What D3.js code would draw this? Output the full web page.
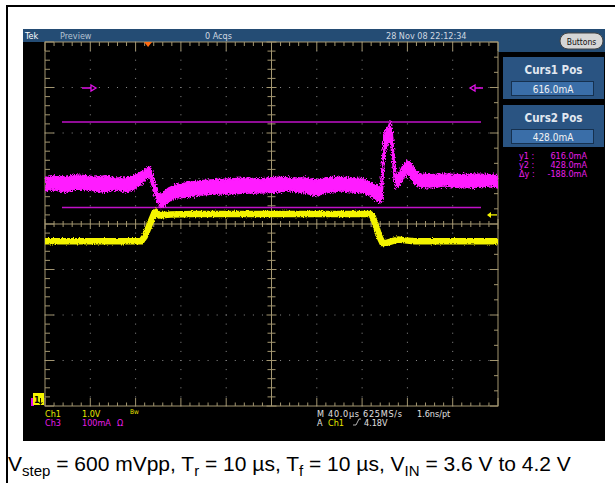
<!DOCTYPE html>
<html><head><meta charset="utf-8">
<script src="https://cdn.jsdelivr.net/npm/d3@7"></script>
<style>body{margin:0;background:#fff}svg{display:block}</style>
</head><body>
<svg id="c" width="615" height="483"></svg>
<script>
// ---------------- data ----------------
const timePerDiv = 40;            // µs/div
const leftEdgeTime = -91;         // µs at left edge (trigger at 0)
const ch1VoltsPerDiv = 1.0;       // V/div
const ch1CenterVolts = 3.98;      // V at screen centre
const ch3MilliampsPerDiv = 100;   // mA/div
const ch3CenterMilliamps = 392;   // mA at screen centre
const triggerLevel = 4.18;        // V
const cursorValues = [616.0, 428.0]; // mA

// Ch1 (yellow) – input voltage
const ch1Time  = [-91, -6, -3, 0, 3, 5.5, 7, 10, 20, 40, 196, 198, 201, 204, 207, 210, 215, 221, 227, 235, 309];
const ch1Volts = [3.6, 3.6, 3.7, 3.88, 4.07, 4.22, 4.24, 4.17, 4.19, 4.2, 4.2, 4.16, 3.96, 3.72, 3.56, 3.56, 3.6, 3.64, 3.62, 3.6, 3.6];

// Ch3 (magenta) – current, upper and lower envelope of the noisy band
const ch3Time  = [-91, -82, -73, -64.5, -55.5, -47, -38, -29, -20, -13, -9, -4.5, -1, 2, 3.5, 6, 9, 11.5, 14, 18, 24, 33, 46, 59, 72, 86, 99, 112, 125, 139, 147.5, 156, 169.5, 183, 191.5, 198, 202, 205, 206.6, 208.4, 210.2, 212, 213.7, 215.5, 217.2, 219, 221.6, 225, 228.7, 232, 235.8, 240, 249, 262, 275.5, 289, 302, 309];
const ch3Upper = [493, 498, 495, 500, 498, 495, 498, 493, 493, 498, 502, 509, 515, 517, 506, 482, 462, 456, 462, 471, 478, 482, 487, 489, 491, 493, 491, 495, 493, 493, 489, 493, 495, 493, 491, 482, 476, 471, 511, 592, 601, 605, 616, 599, 537, 498, 504, 520, 531, 526, 511, 502, 500, 502, 500, 502, 500, 498];
const ch3Lower = [465, 467, 462, 469, 467, 465, 462, 467, 462, 467, 473, 484, 493, 493, 476, 454, 436, 428, 432, 440, 449, 451, 456, 458, 458, 460, 460, 462, 465, 460, 454, 460, 465, 462, 460, 451, 445, 438, 445, 533, 559, 566, 581, 544, 493, 471, 476, 489, 502, 493, 480, 473, 471, 476, 471, 473, 476, 471];

// readouts
const topBarTexts = ["Tek", "Preview", "0 Acqs", "28 Nov 08 22:12:34"];
const cursorPanelTitles = ["Curs1 Pos", "Curs2 Pos"];
const readoutLabels = ["y1 :", "y2 :", "\u0394y :"];
const readoutValues = ["616.0mA", "428.0mA", "-188.0mA"];

// ---------------- drawing ----------------
const svg = d3.select("#c");
const G = {x0: 45, x1: 498, y0: 42, y1: 406};
const nX = 10, nY = 8;
const xDiv = d3.scaleLinear().domain([0, nX]).range([G.x0, G.x1]);
const yDiv = d3.scaleLinear().domain([-nY/2, nY/2]).range([G.y1, G.y0]);
const xT = d3.scaleLinear().domain([leftEdgeTime, leftEdgeTime + nX*timePerDiv]).range([G.x0, G.x1]);
const y1 = d3.scaleLinear().domain([ch1CenterVolts - 4*ch1VoltsPerDiv, ch1CenterVolts + 4*ch1VoltsPerDiv]).range([G.y1, G.y0]);
const y3 = d3.scaleLinear().domain([ch3CenterMilliamps - 4*ch3MilliampsPerDiv, ch3CenterMilliamps + 4*ch3MilliampsPerDiv]).range([G.y1, G.y0]);

const scopeFont = "'Liberation Sans Narrow','DejaVu Sans Condensed',sans-serif";
const TAN = "#a39670", BLUE = "#244c74", MAG = "#ff1aff", YEL = "#f4f400";

const defs = svg.append("defs");
const f = defs.append("filter").attr("id","fuzz").attr("x","-5%").attr("y","-30%").attr("width","110%").attr("height","160%");
f.append("feTurbulence").attr("type","fractalNoise").attr("baseFrequency","0.9 0.6").attr("numOctaves",2).attr("seed",4).attr("result","n");
f.append("feDisplacementMap").attr("in","SourceGraphic").attr("in2","n").attr("scale",6).attr("xChannelSelector","R").attr("yChannelSelector","G");
const f2 = defs.append("filter").attr("id","fuzz2").attr("x","-5%").attr("y","-30%").attr("width","110%").attr("height","160%");
f2.append("feTurbulence").attr("type","fractalNoise").attr("baseFrequency","0.9 0.6").attr("numOctaves",2).attr("seed",9).attr("result","n");
f2.append("feDisplacementMap").attr("in","SourceGraphic").attr("in2","n").attr("scale",3).attr("xChannelSelector","R").attr("yChannelSelector","G");

// figure frame
svg.append("line").attr("x1",6).attr("x2",615).attr("y1",6).attr("y2",6).attr("stroke","#000").attr("stroke-width",2);
svg.append("line").attr("x1",7).attr("x2",7).attr("y1",6).attr("y2",483).attr("stroke","#000").attr("stroke-width",2);

// scope screen
svg.append("rect").attr("x",23).attr("y",29).attr("width",582).attr("height",412).attr("fill","#000");
svg.append("rect").attr("x",23).attr("y",29).attr("width",582).attr("height",13).attr("fill",BLUE);
svg.append("rect").attr("x",498).attr("y",29).attr("width",107).attr("height",23).attr("fill",BLUE);

// top bar text
const tb = svg.append("g").attr("font-family",scopeFont).attr("font-size",9);
tb.append("text").attr("x",25).attr("y",38.5).attr("fill","#fff").text(topBarTexts[0]);
tb.append("text").attr("x",60).attr("y",38.5).attr("fill","#b4c2d2").text(topBarTexts[1]);
tb.append("text").attr("x",205).attr("y",38.5).attr("fill","#d0d8e0").text(topBarTexts[2]);
tb.append("text").attr("x",386).attr("y",38.5).attr("fill","#d0d8e0").text(topBarTexts[3]);
svg.append("rect").attr("x",560).attr("y",33).attr("width",43).attr("height",16).attr("rx",8).attr("fill","#d6d6d6").attr("stroke","#444").attr("stroke-width",1);
svg.append("text").attr("x",581.5).attr("y",44.5).attr("text-anchor","middle").attr("font-family",scopeFont).attr("font-size",8.5).attr("fill","#111").text("Buttons");

// cursor panels
cursorPanelTitles.forEach((t,i)=>{
  const py = 57 + i*48;
  svg.append("rect").attr("x",503).attr("y",py).attr("width",101).attr("height",42).attr("fill","#2a5482");
  svg.append("text").attr("x",553.5).attr("y",py+17).attr("text-anchor","middle").attr("font-family",scopeFont).attr("font-weight","bold").attr("font-size",11.5).attr("fill","#e2e8f0").text(t);
  svg.append("rect").attr("x",511.5).attr("y",py+24.5).attr("width",82).attr("height",14).attr("fill","#3a6ea8").attr("stroke","#16314f").attr("stroke-width",1);
  svg.append("text").attr("x",553).attr("y",py+35.5).attr("text-anchor","middle").attr("font-family",scopeFont).attr("font-size",10).attr("fill","#f2f2f2").text(d3.format(".1f")(cursorValues[i])+"mA");
});
readoutLabels.forEach((l,i)=>{
  svg.append("text").attr("x",519).attr("y",159+i*9).attr("font-family",scopeFont).attr("font-size",9).attr("fill","#e81ee8").text(l);
  svg.append("text").attr("x",587).attr("y",159+i*9).attr("text-anchor","end").attr("font-family",scopeFont).attr("font-size",9).attr("fill","#e81ee8").text(readoutValues[i]);
});

// graticule
const gr = svg.append("g");
const minor = d3.range(0, nX*5+1).map(k=>k/5);
const minorY = d3.range(0, nY*5+1).map(k=>-nY/2 + k/5);
d3.range(1, nX).filter(i=>i!==5).forEach(i=>{
  gr.selectAll(null).data(minorY).join("rect").attr("x",xDiv(i)-0.5).attr("y",d=>yDiv(d)-0.5).attr("width",1).attr("height",1).attr("fill","#8c8c8c");
});
d3.range(-3, 4).filter(j=>j!==0).forEach(j=>{
  gr.selectAll(null).data(minor).join("rect").attr("x",d=>xDiv(d)-0.5).attr("y",yDiv(j)-0.5).attr("width",1).attr("height",1).attr("fill","#8c8c8c");
});
gr.append("rect").attr("x",G.x0).attr("y",G.y0).attr("width",G.x1-G.x0).attr("height",G.y1-G.y0).attr("fill","none").attr("stroke",TAN).attr("stroke-width",1);
const cx = xDiv(5), cy = yDiv(0);
gr.append("line").attr("x1",cx).attr("x2",cx).attr("y1",G.y0).attr("y2",G.y1).attr("stroke",TAN);
gr.append("line").attr("x1",G.x0).attr("x2",G.x1).attr("y1",cy).attr("y2",cy).attr("stroke",TAN);
const isMaj = v => Math.abs(v - Math.round(v)) < 1e-6;
gr.selectAll(null).data(minorY).join("line").attr("x1",d=>cx-(isMaj(d)?5:4)).attr("x2",d=>cx+(isMaj(d)?5:4)).attr("y1",d=>yDiv(d)).attr("y2",d=>yDiv(d)).attr("stroke",TAN);
gr.selectAll(null).data(minor).join("line").attr("y1",d=>cy-(isMaj(d)?5:3)).attr("y2",d=>cy+(isMaj(d)?5:3)).attr("x1",d=>xDiv(d)).attr("x2",d=>xDiv(d)).attr("stroke",TAN);
gr.selectAll(null).data(minor).join("line").attr("x1",d=>xDiv(d)).attr("x2",d=>xDiv(d)).attr("y1",G.y0).attr("y2",d=>G.y0+(isMaj(d)?9:4)).attr("stroke",TAN);
gr.selectAll(null).data(minor).join("line").attr("x1",d=>xDiv(d)).attr("x2",d=>xDiv(d)).attr("y1",G.y1).attr("y2",d=>G.y1-(isMaj(d)?8:3.5)).attr("stroke",TAN);
gr.selectAll(null).data(minorY).join("line").attr("y1",d=>yDiv(d)).attr("y2",d=>yDiv(d)).attr("x1",G.x0).attr("x2",d=>G.x0+(isMaj(d)?9:5)).attr("stroke",TAN);
const thirdY = d3.range(0, nY*3+1).map(k=>-nY/2 + k/3);
gr.selectAll(null).data(thirdY).join("line").attr("y1",d=>yDiv(d)).attr("y2",d=>yDiv(d)).attr("x1",G.x1).attr("x2",d=>G.x1-(isMaj(d)?8:4)).attr("stroke",TAN);

// cursor lines
cursorValues.forEach(v=>{
  svg.append("line").attr("x1",62).attr("x2",481).attr("y1",y3(v)).attr("y2",y3(v)).attr("stroke","#c010c8").attr("stroke-width",1.5);
});
svg.append("path").attr("d","M82,88H91M91,85L96,88L91,91Z").attr("stroke","#e010e8").attr("stroke-width",1.3).attr("fill","none");
svg.append("path").attr("d","M483,88H475M475,85L470,88L475,91Z").attr("stroke","#e010e8").attr("stroke-width",1.3).attr("fill","none");

// traces
const ch3Data = ch3Time.map((t,i)=>({t, hi: ch3Upper[i], lo: ch3Lower[i]}));
const area3 = d3.area().x(d=>xT(d.t)).y0(d=>y3(d.lo)).y1(d=>y3(d.hi));
const clip = defs.append("clipPath").attr("id","gclip");
clip.append("rect").attr("x",G.x0).attr("y",G.y0).attr("width",G.x1-G.x0).attr("height",G.y1-G.y0);
const tr = svg.append("g").attr("clip-path","url(#gclip)");
tr.append("path").datum(ch3Data).attr("d",area3).attr("fill",MAG).attr("stroke",MAG).attr("stroke-width",1.5).attr("filter","url(#fuzz)");
const ch1Data = ch1Time.map((t,i)=>({t, v: ch1Volts[i]}));
const line1 = d3.line().x(d=>xT(d.t)).y(d=>y1(d.v));
tr.append("path").datum(ch1Data).attr("d",line1).attr("fill","none").attr("stroke",YEL).attr("stroke-width",6.5).attr("filter","url(#fuzz2)");

// trigger markers
const tx = xT(0);
svg.append("path").attr("d",`M${tx-4},42L${tx+4},42L${tx},47Z`).attr("fill","#ff6a10");
const ty = y1(triggerLevel);
svg.append("path").attr("d",`M487,${ty}L491,${ty-3}L491,${ty+3}Z`).attr("fill",YEL);
svg.append("line").attr("x1",491).attr("x2",497).attr("y1",ty).attr("y2",ty).attr("stroke",YEL).attr("stroke-width",1.3);

// channel marker
svg.append("rect").attr("x",31).attr("y",398).attr("width",3).attr("height",8).attr("fill","#e010e8");
svg.append("rect").attr("x",33).attr("y",393).attr("width",11).attr("height",12).attr("fill",YEL);
svg.append("text").attr("x",34).attr("y",403).attr("font-family",scopeFont).attr("font-size",9).attr("font-weight","bold").attr("fill","#000").text("1");
svg.append("path").attr("d","M40.5,398V404M38.5,402L40.5,404.5L42.5,402").attr("stroke","#000").attr("fill","none").attr("stroke-width",0.9);

// bottom readouts
const br = svg.append("g").attr("font-family",scopeFont).attr("font-size",9);
br.append("text").attr("x",45).attr("y",416.5).attr("fill","#e8e800").text("Ch1");
br.append("text").attr("x",82).attr("y",416.5).attr("fill","#e8e800").text(d3.format(".1f")(ch1VoltsPerDiv)+"V");
br.append("text").attr("x",130).attr("y",414).attr("font-size",6.5).attr("fill","#e8e800").text("Bw");
br.append("text").attr("x",45).attr("y",425.5).attr("fill","#e81ee8").text("Ch3");
br.append("text").attr("x",82).attr("y",425.5).attr("fill","#e81ee8").text(ch3MilliampsPerDiv+"mA");
br.append("text").attr("x",117).attr("y",425.5).attr("fill","#e81ee8").text("\u03A9");
br.append("text").attr("x",317).attr("y",416.5).attr("fill","#e0e0e0").attr("textLength",85).attr("lengthAdjust","spacing").text("M "+d3.format(".1f")(timePerDiv)+"\u00B5s 625MS/s");
br.append("text").attr("x",417).attr("y",416.5).attr("fill","#e0e0e0").text("1.6ns/pt");
br.append("text").attr("x",317).attr("y",425.5).attr("fill","#e0e0e0").text("A");
br.append("text").attr("x",328).attr("y",425.5).attr("fill","#e8e800").text("Ch1");
br.append("path").attr("d","M353,425L356,425L359,419L361,419").attr("stroke","#e0e0e0").attr("fill","none").attr("stroke-width",0.8);
br.append("text").attr("x",364).attr("y",425.5).attr("fill","#e0e0e0").text(d3.format(".2f")(triggerLevel)+"V");

// caption
const cap = svg.append("text").attr("x",8).attr("y",471).attr("font-family","'Liberation Sans',Arial,sans-serif").attr("font-size",21).attr("fill","#000");
const parts = [["V",0],["step",1],[" = 600 mVpp, T",0],["r",1],[" = 10 \u00B5s, T",0],["f",1],[" = 10 \u00B5s, V",0],["IN",1],[" = 3.6 V to 4.2 V",0]];
let sub = false;
parts.forEach(([s,isSub])=>{
  const ts = cap.append("tspan").text(s);
  if (isSub && !sub) { ts.attr("dy",5).attr("font-size",15); sub = true; }
  else if (isSub) { ts.attr("font-size",15); }
  else if (sub) { ts.attr("dy",-5); sub = false; }
});
</script>
</body></html>
